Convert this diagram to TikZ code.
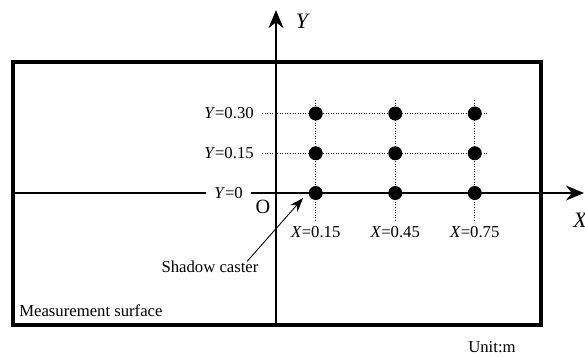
\documentclass[tikz,border=0pt]{standalone}
\usepackage{fontspec}
\setmainfont{Liberation Serif}
\usetikzlibrary{arrows.meta, positioning}

\begin{document}
\begin{tikzpicture}[
    x=5.3cm, y=5.3cm,
    font=\fontsize{9.5}{11}\selectfont,
    surface/.style={draw, line width=2pt},
    axis/.style={line width=0.6pt},
    axisTip/.style={-{Stealth[length=0.36cm, width=0.3cm]}, line width=0.6pt},
    pointer/.style={-{Stealth[length=0.28cm, width=0.2cm]}, line width=0.5pt},
    gridLine/.style={densely dotted, line width=0.45pt, draw=black!85},
    point/.style={circle, fill=black, inner sep=0pt, minimum size=0.28cm},
    ytag/.style={inner xsep=4.5pt, inner ysep=1pt},
    xtag/.style={inner sep=3pt},
    axisName/.style={font=\fontsize{12.5}{14}\selectfont\itshape, inner sep=0pt}
  ]
  \useasboundingbox (-1.0415,-0.6151) rectangle (1.1660,0.7283);

  %% ---- Measurement surface ----
  \draw[surface] (-0.993,-0.498) rectangle (1.0,0.494);
  \node[anchor=west, inner sep=0pt] (surf) at (-0.970,-0.445) {Measurement surface};

  %% ---- Axes ----
  \coordinate (xstart) at (-0.993,0);
  \coordinate (xtip)   at (1.162,0);
  \coordinate (ybot)   at (0,-0.498);
  \coordinate (ytip)   at (0,0.690);
  \node[ytag] (y0) at (-0.179,0) {\textit{Y}=0};
  \draw[axis] (xstart) -- (y0.west);
  \draw[axisTip] (y0.east) -- (xtip);
  \draw[axisTip] (ybot) -- (ytip);
  \node[axisName] (xname) at (1.147,-0.102) {X};
  \node[axisName] (yname) at (0.098,0.649) {Y};
  \node[font=\fontsize{11.5}{13}\selectfont, inner sep=0pt] (orig) at (-0.049,-0.053) {O};

  %% ---- Grid lines ----
  \node[ytag, anchor=east] (y30) at (-0.053,0.30) {\textit{Y}=0.30};
  \node[ytag, anchor=east] (y15) at (-0.053,0.15) {\textit{Y}=0.15};
  \coordinate (end30) at (0.80,0.30);
  \coordinate (end15) at (0.80,0.15);
  \draw[gridLine] (y30.east) -- (end30);
  \draw[gridLine] (y15.east) -- (end15);

  \foreach \px/\nm in {0.15/15, 0.45/45, 0.75/75} {
    \node[xtag] (x\nm) at (\px,-0.147) {\textit{X}=\px};
    \coordinate (top\nm) at (\px,0.351);
    \draw[gridLine] (top\nm) -- (x\nm.north);
  }

  %% ---- Measuring points ----
  \foreach \px/\a in {0.15/1, 0.45/2, 0.75/3} {
    \foreach \py/\b in {0/1, 0.15/2, 0.30/3} {
      \node[point] (p\a\b) at (\px,\py) {};
    }
  }

  %% ---- Shadow caster ----
  \node[inner sep=0pt] (caster) at (-0.249,-0.279) {Shadow caster};
  \coordinate (tail) at (-0.109,-0.258);
  \coordinate (tip)  at (0.102,-0.019);
  \draw[pointer] (tail) -- (tip);

  \node[inner sep=0pt] (unit) at (0.815,-0.582) {Unit:m};

\end{tikzpicture}
\end{document}
